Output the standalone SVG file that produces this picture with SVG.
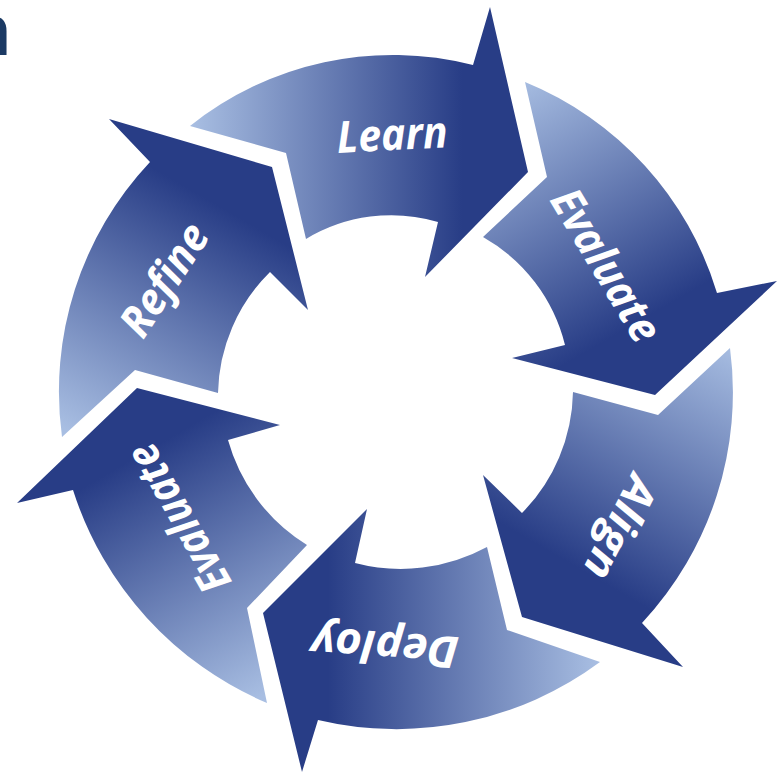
<svg xmlns="http://www.w3.org/2000/svg" width="782" height="774" viewBox="0 0 782 774">
  <style>
    .lbl { font-family: "Open Sans", "Noto Sans", "DejaVu Sans", sans-serif; font-weight: 700; font-style: italic; font-size: 44px; fill: #ffffff; text-anchor: middle; }
    .title { font-family: "Liberation Sans", Arial, sans-serif; font-weight: 700; font-size: 72px; fill: #1b3a64; }
  </style>
  <defs>
    <linearGradient id="gLearn" gradientUnits="userSpaceOnUse" x1="192" y1="385" x2="462" y2="385">
      <stop offset="0" stop-color="#a8bee2"/><stop offset="1" stop-color="#283d86"/>
    </linearGradient>
    <linearGradient id="gEvalR" gradientUnits="userSpaceOnUse" x1="293.5" y1="209.2" x2="428.5" y2="443">
      <stop offset="0" stop-color="#a8bee2"/><stop offset="1" stop-color="#283d86"/>
    </linearGradient>
    <linearGradient id="gAlign" gradientUnits="userSpaceOnUse" x1="496.5" y1="209.2" x2="361.5" y2="443">
      <stop offset="0" stop-color="#a8bee2"/><stop offset="1" stop-color="#283d86"/>
    </linearGradient>
    <linearGradient id="gDeploy" gradientUnits="userSpaceOnUse" x1="598" y1="385" x2="328" y2="385">
      <stop offset="0" stop-color="#a8bee2"/><stop offset="1" stop-color="#283d86"/>
    </linearGradient>
    <linearGradient id="gEvalL" gradientUnits="userSpaceOnUse" x1="496.5" y1="560.8" x2="361.5" y2="327">
      <stop offset="0" stop-color="#a8bee2"/><stop offset="1" stop-color="#283d86"/>
    </linearGradient>
    <linearGradient id="gRefine" gradientUnits="userSpaceOnUse" x1="293.5" y1="560.8" x2="428.5" y2="327">
      <stop offset="0" stop-color="#a8bee2"/><stop offset="1" stop-color="#283d86"/>
    </linearGradient>
  </defs>
  <rect width="782" height="774" fill="#ffffff"/>
  <text class="title" x="-33" y="55">n</text>
  <g id="connectors"/>
  <g id="learn">
    <path fill="url(#gLearn)" d="M190,126 A325,325 0 0 1 473,65 L490,7 L528,172 L425,277 L438,222 A165,165 0 0 0 306,239 L286,153 Z"/>
    <text class="lbl" x="393" y="150" transform="rotate(-3 393 150)" textLength="111" lengthAdjust="spacingAndGlyphs">Learn</text>
  </g>
  <g id="evaluate-right">
    <path fill="url(#gEvalR)" d="M525,82 A331,331 0 0 1 717,293 L777,281 L655,395 L512,358 L565,345 A171,171 0 0 0 483,237 L547,177 Z"/>
    <text class="lbl" x="593" y="273" transform="rotate(59 593 273)" textLength="171" lengthAdjust="spacingAndGlyphs">Evaluate</text>
  </g>
  <g id="align">
    <path fill="url(#gAlign)" d="M730,348 A338,338 0 0 1 642,623 L683,667 L522,617 L483,475 L522,513 A177,177 0 0 0 573,392 L658,415 Z"/>
    <text class="lbl" x="607" y="521" transform="rotate(117 607 521)" textLength="110" lengthAdjust="spacingAndGlyphs">Align</text>
  </g>
  <g id="deploy">
    <path fill="url(#gDeploy)" d="M600,662 A342,342 0 0 1 318,720 L302,772 L263,613 L367,509 L355,563 A181,181 0 0 0 487,547 L507,630 Z"/>
    <text class="lbl" x="386" y="632" transform="rotate(184 386 632)" textLength="148" lengthAdjust="spacingAndGlyphs">Deploy</text>
  </g>
  <g id="evaluate-left">
    <path fill="url(#gEvalL)" d="M267,703 A345,345 0 0 1 73,490 L17,503 L137,388 L280,425 L228,440 A180,180 0 0 0 307,545 L247,608 Z"/>
    <text class="lbl" x="192" y="511" transform="rotate(-119.5 192 511)" textLength="164" lengthAdjust="spacingAndGlyphs">Evaluate</text>
  </g>
  <g id="refine">
    <path fill="url(#gRefine)" d="M62,437 A335,335 0 0 1 150,162 L109,119 L272,167 L308,310 L270,272 A175,175 0 0 0 218,393 L135,370 Z"/>
    <text class="lbl" x="177" y="288" transform="rotate(-57 177 288)" textLength="125" lengthAdjust="spacingAndGlyphs">Refine</text>
  </g>
</svg>
